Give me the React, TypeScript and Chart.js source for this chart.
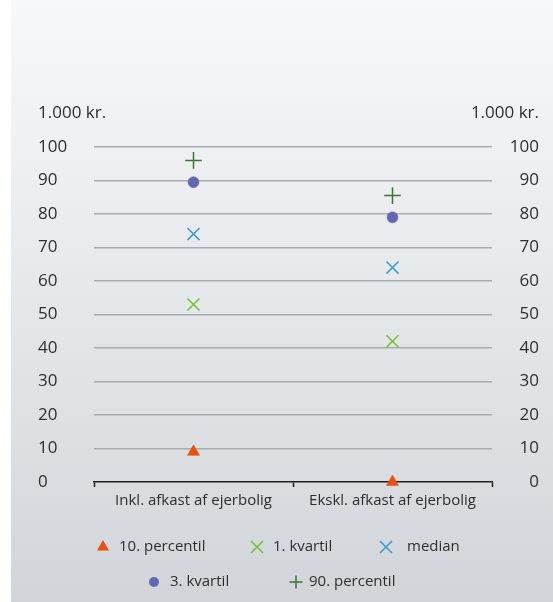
import React, { useEffect, useRef } from "react";
import { Chart, registerables } from "chart.js";

Chart.register(...registerables);

const categories = ["Inkl. afkast af ejerbolig", "Ekskl. afkast af ejerbolig"];
const percentile10 = [9, 0];
const kvartil1 = [53, 42];
const medianValues = [74, 64];
const kvartil3 = [89.5, 79];
const percentile90 = [96, 85.5];
const yTicks = [0, 10, 20, 30, 40, 50, 60, 70, 80, 90, 100];
const unitLabel = "1.000 kr.";

const FONT = "'Open Sans', sans-serif";
const TEXT = "#2e2e2e";

type Series = { label: string; data: number[]; style: string; color: string; radius: number; legendRadius: number };

const series: Series[] = [
  { label: "10. percentil", data: percentile10, style: "triangle", color: "#e8500e", radius: 7, legendRadius: 7 },
  { label: "1. kvartil", data: kvartil1, style: "crossRot", color: "#7cbb36", radius: 8.5, legendRadius: 8.5 },
  { label: "median", data: medianValues, style: "crossRot", color: "#3b97cd", radius: 8.5, legendRadius: 8.5 },
  { label: "3. kvartil", data: kvartil3, style: "circle", color: "#6366b1", radius: 5.5, legendRadius: 5 },
  { label: "90. percentil", data: percentile90, style: "cross", color: "#3f7436", radius: 8.3, legendRadius: 6.5 },
];

function drawMarker(ctx: CanvasRenderingContext2D, style: string, x: number, y: number, r: number, color: string) {
  ctx.save();
  ctx.fillStyle = color;
  ctx.strokeStyle = color;
  ctx.lineWidth = 1.5;
  ctx.beginPath();
  if (style === "triangle") {
    ctx.moveTo(x, y - r);
    ctx.lineTo(x + Math.sin((2 * Math.PI) / 3) * r, y + 0.5 * r);
    ctx.lineTo(x - Math.sin((2 * Math.PI) / 3) * r, y + 0.5 * r);
    ctx.closePath();
    ctx.fill();
  } else if (style === "circle") {
    ctx.arc(x, y, r, 0, Math.PI * 2);
    ctx.fill();
  } else if (style === "crossRot") {
    const o = r * Math.SQRT1_2;
    ctx.moveTo(x - o, y - o);
    ctx.lineTo(x + o, y + o);
    ctx.moveTo(x - o, y + o);
    ctx.lineTo(x + o, y - o);
    ctx.stroke();
  } else {
    ctx.moveTo(x - r, y);
    ctx.lineTo(x + r, y);
    ctx.moveTo(x, y - r);
    ctx.lineTo(x, y + r);
    ctx.stroke();
  }
  ctx.restore();
}

// legend layout: rows of series indices, marker x, text x (canvas coords)
const legendRows = [
  { y: 547, items: [ { i: 0, mx: 92, tx: 108 }, { i: 1, mx: 246, tx: 262 }, { i: 2, mx: 375, tx: 396 } ] },
  { y: 582, items: [ { i: 3, mx: 143, tx: 159 }, { i: 4, mx: 285, tx: 298 } ] },
];

const overlayPlugin = {
  id: "overlay",
  afterDraw(chart: any) {
    const ctx: CanvasRenderingContext2D = chart.ctx;
    ctx.save();
    ctx.font = `17px ${FONT}`;
    ctx.fillStyle = TEXT;
    ctx.textBaseline = "alphabetic";
    const yl = chart.scales.y;
    const yr = chart.scales.y2;
    ctx.textAlign = "left";
    ctx.fillText(unitLabel, yl.left, 118);
    ctx.textAlign = "right";
    ctx.fillText(unitLabel, yr.right, 118);

    ctx.font = `15px ${FONT}`;
    ctx.textAlign = "left";
    ctx.textBaseline = "middle";
    for (const row of legendRows) {
      for (const it of row.items) {
        const s = series[it.i];
        drawMarker(ctx, s.style, it.mx, row.y, s.legendRadius, s.color);
        ctx.fillStyle = TEXT;
        ctx.fillText(s.label, it.tx, row.y);
      }
    }
    ctx.restore();
  },
};

export default function App() {
  const ref = useRef<HTMLCanvasElement | null>(null);
  useEffect(() => {
    if (!ref.current) return;
    const gridColor = (c: any) => (c.tick && c.tick.value === 0 ? "rgba(0,0,0,0)" : "#a9abad");
    const chart = new Chart(ref.current, {
      type: "line",
      data: {
        labels: categories,
        datasets: series.map((s) => ({
          label: s.label,
          data: s.data,
          showLine: false,
          pointStyle: s.style as any,
          pointRadius: s.radius,
          pointHoverRadius: s.radius,
          pointBackgroundColor: s.color,
          pointBorderColor: s.color,
          pointBorderWidth: s.style === "circle" || s.style === "triangle" ? 0.5 : 1.5,
          backgroundColor: s.color,
          borderColor: s.color,
          clip: false as any,
        })),
      },
      options: {
        animation: false,
        responsive: false,
        events: [],
        layout: { padding: { left: 27, right: 14, top: 147, bottom: 0 } },
        plugins: { legend: { display: false }, tooltip: { enabled: false }, title: { display: false } },
        scales: {
          x: {
            type: "category",
            offset: true,
            grid: {
              offset: true,
              drawOnChartArea: false,
              drawTicks: true,
              tickLength: 5,
              tickWidth: 1.5,
              tickColor: "#1e1e1e",
            },
            border: { display: true, color: "#1e1e1e", width: 1.5 },
            ticks: { font: { family: FONT, size: 15 }, color: TEXT, padding: 5, maxRotation: 0, autoSkip: false },
            afterFit: (s: any) => { s.height = 120; },
          },
          y: {
            position: "left",
            min: 0,
            max: 100,
            afterBuildTicks: (s: any) => { s.ticks = yTicks.map((v) => ({ value: v })); },
            grid: { color: gridColor, lineWidth: 1.5, drawTicks: false },
            border: { display: false },
            ticks: { font: { family: FONT, size: 17 }, color: TEXT, crossAlign: "far", padding: 0 },
            afterFit: (s: any) => { s.width = 56; },
          },
          y2: {
            position: "right",
            min: 0,
            max: 100,
            afterBuildTicks: (s: any) => { s.ticks = yTicks.map((v) => ({ value: v })); },
            grid: { drawOnChartArea: false, drawTicks: false },
            border: { display: false },
            ticks: { font: { family: FONT, size: 17 }, color: TEXT, crossAlign: "far", padding: 0 },
            afterFit: (s: any) => { s.width = 47; },
          },
        },
      },
      plugins: [overlayPlugin],
    });
    return () => chart.destroy();
  }, []);

  return (
    <div
      style={{
        position: "fixed",
        left: 11,
        top: 0,
        width: 542,
        height: 602,
        background: "linear-gradient(to bottom, #f7f8f9 0%, #e5e8eb 50%, #d1d5d9 100%)",
      }}
    >
      <canvas ref={ref} width={542} height={602} style={{ display: "block", width: 542, height: 602 }} />
    </div>
  );
}
